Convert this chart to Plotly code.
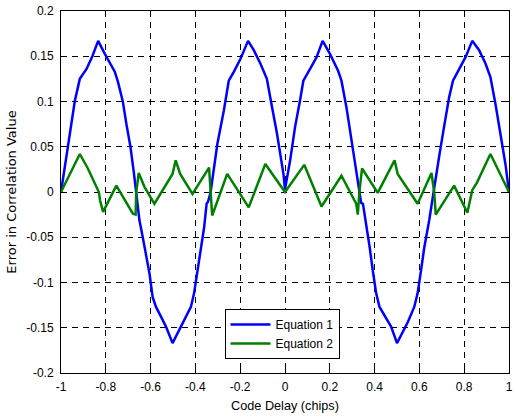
import plotly.graph_objects as go

# Equation 1 (blue)
eq1_x = [-1.000, -0.960, -0.938, -0.916, -0.886, -0.860, -0.834, -0.805, -0.760, -0.746,
         -0.724, -0.708, -0.690, -0.675, -0.664, -0.650, -0.635, -0.620, -0.605, -0.591,
         -0.576, -0.553, -0.531, -0.502, -0.472, -0.450, -0.420, -0.406, -0.391, -0.376,
         -0.361, -0.350, -0.344, -0.332, -0.302, -0.273, -0.251, -0.228, -0.199, -0.165,
         -0.140, -0.110, -0.081, -0.058, -0.036, -0.007, 0.000, 0.023, 0.045, 0.067,
         0.082, 0.112, 0.141, 0.168, 0.200, 0.237, 0.252, 0.274, 0.296, 0.318,
         0.330, 0.340, 0.348, 0.363, 0.378, 0.392, 0.407, 0.422, 0.444, 0.474,
         0.500, 0.525, 0.548, 0.577, 0.592, 0.607, 0.622, 0.644, 0.659, 0.666,
         0.688, 0.710, 0.733, 0.750, 0.777, 0.806, 0.836, 0.866, 0.895, 0.917,
         0.939, 0.961, 0.984, 1.000]
eq1_y = [0.000, 0.065, 0.101, 0.125, 0.136, 0.150, 0.167, 0.153, 0.133, 0.122,
         0.100, 0.075, 0.050, 0.022, 0.000, -0.031, -0.050, -0.072, -0.090, -0.116,
         -0.127, -0.138, -0.149, -0.167, -0.153, -0.142, -0.127, -0.112, -0.087, -0.061,
         -0.039, -0.013, -0.011, 0.000, 0.053, 0.090, 0.123, 0.133, 0.147, 0.167,
         0.157, 0.142, 0.125, 0.094, 0.065, 0.020, 0.003, 0.035, 0.072, 0.101,
         0.123, 0.136, 0.149, 0.167, 0.153, 0.134, 0.123, 0.094, 0.057, 0.020,
         0.000, -0.012, -0.013, -0.035, -0.061, -0.087, -0.112, -0.127, -0.136, -0.149,
         -0.167, -0.155, -0.144, -0.127, -0.112, -0.087, -0.061, -0.031, -0.006, 0.000,
         0.039, 0.072, 0.105, 0.123, 0.136, 0.149, 0.167, 0.157, 0.142, 0.127,
         0.098, 0.065, 0.031, 0.000]

# Equation 2 (green)
eq2_x = [-1.000, -0.916, -0.880, -0.842, -0.831, -0.825, -0.812, -0.753, -0.679, -0.667,
         -0.664, -0.653, -0.628, -0.583, -0.502, -0.488, -0.468, -0.413, -0.339, -0.332,
         -0.325, -0.258, -0.162, -0.088, 0.000, 0.086, 0.163, 0.252, 0.318, 0.325,
         0.332, 0.344, 0.414, 0.489, 0.503, 0.592, 0.654, 0.666, 0.673, 0.755,
         0.814, 0.836, 0.858, 0.917, 1.000]
eq2_y = [0.000, 0.042, 0.026, 0.006, 0.000, -0.010, -0.022, 0.007, -0.024, -0.025,
         0.000, 0.021, 0.006, -0.013, 0.020, 0.035, 0.020, -0.002, 0.027, 0.000,
         -0.026, 0.020, -0.017, 0.031, 0.000, 0.030, -0.016, 0.018, -0.013, -0.025,
         0.000, 0.026, -0.001, 0.035, 0.020, -0.013, 0.021, 0.000, -0.025, 0.007,
         -0.023, 0.002, 0.011, 0.042, 0.000]

x_ticks = [-1, -0.8, -0.6, -0.4, -0.2, 0, 0.2, 0.4, 0.6, 0.8, 1]
x_labels = ["-1", "-0.8", "-0.6", "-0.4", "-0.2", "0", "0.2", "0.4", "0.6", "0.8", "1"]
y_ticks = [-0.2, -0.15, -0.1, -0.05, 0, 0.05, 0.1, 0.15, 0.2]
y_labels = ["-0.2", "-0.15", "-0.1", "-0.05", "0", "0.05", "0.1", "0.15", "0.2"]

FONT = "Liberation Sans, Arial, sans-serif"

fig = go.Figure()
fig.add_trace(go.Scatter(x=eq1_x, y=eq1_y, mode="lines", name="Equation 1",
                         line=dict(color="#0000FF", width=2.5)))
fig.add_trace(go.Scatter(x=eq2_x, y=eq2_y, mode="lines", name="Equation 2",
                         line=dict(color="#008000", width=2.5)))

axis_common = dict(
    showline=True, linecolor="black", linewidth=1, mirror="ticks",
    ticks="inside", ticklen=4, tickcolor="black",
    showgrid=True, gridcolor="black", gridwidth=1, griddash="6px,5px",
    zeroline=False, ticklabeloverflow="allow",
    tickfont=dict(family=FONT, size=12, color="black"),
)

fig.update_xaxes(range=[-1, 1], tickvals=x_ticks, ticktext=x_labels, ticklabelstandoff=3,
                 title=dict(text="Code Delay (chips)", font=dict(family=FONT, size=12.7, color="black"), standoff=7),
                 **axis_common)
fig.update_yaxes(range=[-0.2, 0.2], tickvals=y_ticks, ticktext=y_labels, ticklabelstandoff=4,
                 title=dict(text="Error in Correlation Value",
                            font=dict(family="DejaVu Sans, sans-serif", size=13, color="black"), standoff=6),
                 **axis_common)

fig.update_layout(
    width=515, height=417,
    margin=dict(l=61, r=2, t=11, b=44),
    paper_bgcolor="white", plot_bgcolor="white",
    showlegend=True,
    legend=dict(x=0.365, y=0.177, xanchor="left", yanchor="top",
                bgcolor="white", bordercolor="black", borderwidth=1,
                font=dict(family=FONT, size=12, color="black"),
                tracegroupgap=0, itemwidth=40),
)

fig.write_html("out.html")
